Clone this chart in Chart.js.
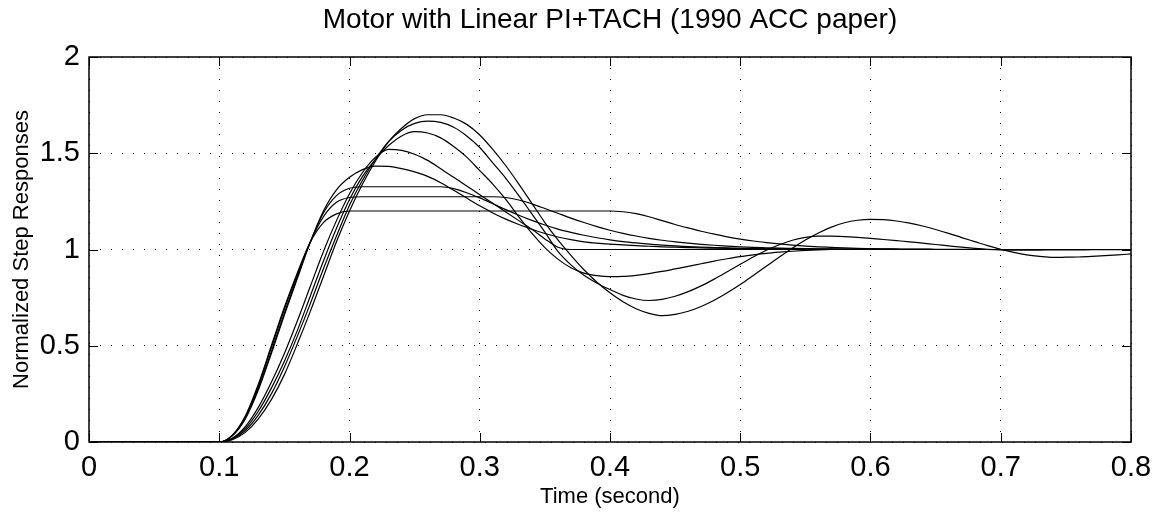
<!DOCTYPE html>
<html>
<head>
<meta charset="utf-8">
<script src="https://cdn.jsdelivr.net/npm/chart.js@4.4.1/dist/chart.umd.min.js"></script>
<style>
    html, body { margin: 0; padding: 0; background: #fff; }
    #wrap { width: 1156px; height: 521px; }
</style>
</head>
<body>
<div id="wrap"><canvas id="chart" width="1156" height="521"></canvas></div>
<script>
// sample times (s): 0, then 0.10 ... 0.80 every 0.01
const timeSec = [0,
    0.10, 0.11, 0.12, 0.13, 0.14, 0.15, 0.16, 0.17, 0.18, 0.19,
    0.20, 0.21, 0.22, 0.23, 0.24, 0.25, 0.26, 0.27, 0.28, 0.29,
    0.30, 0.31, 0.32, 0.33, 0.34, 0.35, 0.36, 0.37, 0.38, 0.39,
    0.40, 0.41, 0.42, 0.43, 0.44, 0.45, 0.46, 0.47, 0.48, 0.49,
    0.50, 0.51, 0.52, 0.53, 0.54, 0.55, 0.56, 0.57, 0.58, 0.59,
    0.60, 0.61, 0.62, 0.63, 0.64, 0.65, 0.66, 0.67, 0.68, 0.69,
    0.70, 0.71, 0.72, 0.73, 0.74, 0.75, 0.76, 0.77, 0.78, 0.79,
    0.80]

// normalized step responses
const stepA = [0,
    0, 0.035, 0.135, 0.30, 0.50, 0.70, 0.88, 1.04, 1.14, 1.185,
    1.20, 1.20, 1.20, 1.20, 1.20, 1.20, 1.20, 1.20, 1.20, 1.20,
    1.20, 1.20, 1.20, 1.20, 1.20, 1.20, 1.20, 1.20, 1.20, 1.20,
    1.20, 1.196, 1.186, 1.17, 1.15, 1.13, 1.112, 1.095, 1.08, 1.066,
    1.054, 1.044, 1.036, 1.029, 1.023, 1.018, 1.014, 1.011, 1.008, 1.006,
    1.005, 1.004, 1.003, 1.002, 1.002, 1.001, 1.001, 1.001, 1.0, 1.0,
    1.0, 1.0, 1.0, 1.0, 1.0, 1.0, 1.0, 1.0, 1.0, 1.0,
    1.0]
const stepB = [0,
    0, 0.034, 0.13, 0.29, 0.49, 0.69, 0.87, 1.04, 1.17, 1.245,
    1.27, 1.274, 1.274, 1.274, 1.274, 1.274, 1.274, 1.274, 1.274, 1.274,
    1.274, 1.274, 1.27, 1.257, 1.237, 1.213, 1.188, 1.163, 1.14, 1.119,
    1.10, 1.084, 1.07, 1.058, 1.048, 1.04, 1.033, 1.027, 1.022, 1.018,
    1.014, 1.011, 1.009, 1.007, 1.006, 1.005, 1.004, 1.003, 1.002, 1.002,
    1.001, 1.001, 1.001, 1.001, 1.001, 1.0, 1.0, 1.0, 1.0, 1.0,
    1.0, 1.0, 1.0, 1.0, 1.0, 1.0, 1.0, 1.0, 1.0, 1.0,
    1.0]
const stepC = [0,
    0, 0.033, 0.125, 0.28, 0.47, 0.67, 0.86, 1.04, 1.19, 1.28,
    1.318, 1.326, 1.326, 1.326, 1.326, 1.326, 1.326, 1.326, 1.316, 1.295,
    1.268, 1.238, 1.207, 1.178, 1.151, 1.127, 1.106, 1.089, 1.074, 1.061,
    1.05, 1.041, 1.034, 1.028, 1.023, 1.019, 1.015, 1.012, 1.01, 1.008,
    1.006, 1.005, 1.004, 1.003, 1.002, 1.002, 1.001, 1.001, 1.001, 1.0,
    1.0, 1.0, 1.0, 1.0, 1.0, 1.0, 1.0, 1.0, 1.0, 1.0,
    1.0, 1.0, 1.0, 1.0, 1.0, 1.0, 1.0, 1.0, 1.0, 1.0,
    1.0]
const stepD = [0,
    0, 0.032, 0.12, 0.27, 0.46, 0.66, 0.85, 1.04, 1.20, 1.31,
    1.375, 1.415, 1.433, 1.432, 1.42, 1.403, 1.38, 1.347, 1.308, 1.267,
    1.227, 1.19, 1.158, 1.13, 1.105, 1.083, 1.065, 1.051, 1.04, 1.033,
    1.028, 1.024, 1.02, 1.017, 1.014, 1.012, 1.01, 1.008, 1.007, 1.006,
    1.005, 1.004, 1.004, 1.003, 1.003, 1.002, 1.002, 1.002, 1.001, 1.001,
    1.001, 1.001, 1.0, 1.0, 1.0, 1.0, 1.0, 1.0, 1.0, 1.0,
    1.0, 1.0, 1.0, 1.0, 1.0, 1.0, 1.0, 1.0, 1.0, 1.0,
    1.0]
const stepE = [0,
    0, 0.02, 0.08, 0.18, 0.31, 0.46, 0.63, 0.81, 0.99, 1.15,
    1.29, 1.40, 1.48, 1.52, 1.515, 1.495, 1.463, 1.42, 1.375, 1.33,
    1.285, 1.24, 1.195, 1.15, 1.105, 1.055, 1.012, 1.0, 1.0, 1.0,
    1.0, 1.0, 1.0, 1.0, 1.0, 1.0, 1.0, 1.0, 1.0, 1.0,
    1.0, 1.0, 1.0, 1.0, 1.0, 1.0, 1.0, 1.0, 1.0, 1.0,
    1.0, 1.0, 1.0, 1.0, 1.0, 1.0, 1.0, 1.0, 1.0, 1.0,
    1.0, 1.0, 1.0, 1.0, 1.0, 1.0, 1.0, 1.0, 1.0, 1.0,
    1.0]
const stepF = [0,
    0, 0.018, 0.07, 0.16, 0.28, 0.42, 0.58, 0.76, 0.94, 1.11,
    1.26, 1.38, 1.47, 1.54, 1.59, 1.612, 1.605, 1.58, 1.535, 1.48,
    1.41, 1.34, 1.26, 1.17, 1.085, 1.01, 0.95, 0.905, 0.877, 0.864,
    0.859, 0.86, 0.866, 0.875, 0.886, 0.899, 0.912, 0.926, 0.94, 0.952,
    0.963, 0.972, 0.98, 0.986, 0.991, 0.995, 0.998, 1.0, 1.001, 1.001,
    1.001, 1.001, 1.0, 1.0, 1.0, 1.0, 1.0, 1.0, 1.0, 1.0,
    1.0, 1.0, 1.0, 1.0, 1.0, 1.0, 1.0, 1.0, 1.0, 1.0,
    1.0]
const stepG = [0,
    0, 0.015, 0.06, 0.14, 0.25, 0.39, 0.55, 0.72, 0.90, 1.07,
    1.23, 1.36, 1.47, 1.56, 1.62, 1.655, 1.667, 1.66, 1.635, 1.59,
    1.53, 1.45, 1.37, 1.28, 1.185, 1.09, 0.99, 0.92, 0.866, 0.825,
    0.792, 0.762, 0.743, 0.735, 0.741, 0.757, 0.781, 0.811, 0.846, 0.884,
    0.923, 0.961, 0.996, 1.025, 1.048, 1.063, 1.07, 1.069, 1.067, 1.063,
    1.058, 1.052, 1.046, 1.04, 1.033, 1.026, 1.019, 1.012, 1.006, 1.001,
    0.998, 0.997, 0.997, 0.997, 0.998, 0.998, 0.998, 0.999, 0.999, 0.999,
    1.0]
const stepH = [0,
    0, 0.012, 0.05, 0.12, 0.22, 0.35, 0.51, 0.68, 0.86, 1.04,
    1.20, 1.34, 1.46, 1.56, 1.63, 1.68, 1.70, 1.70, 1.683, 1.65,
    1.595, 1.52, 1.435, 1.34, 1.24, 1.14, 1.05, 0.97, 0.895, 0.83,
    0.775, 0.728, 0.692, 0.668, 0.656, 0.663, 0.679, 0.704, 0.736, 0.775,
    0.818, 0.865, 0.913, 0.961, 1.007, 1.049, 1.086, 1.116, 1.139, 1.152,
    1.157, 1.155, 1.148, 1.137, 1.122, 1.104, 1.084, 1.062, 1.041, 1.02,
    1.001, 0.985, 0.972, 0.964, 0.959, 0.96, 0.961, 0.964, 0.968, 0.972,
    0.977]

const responses = [stepA, stepB, stepC, stepD, stepE, stepF, stepG, stepH]
const xTicks = [0, 0.1, 0.2, 0.3, 0.4, 0.5, 0.6, 0.7, 0.8]
const yTicks = [0, 0.5, 1, 1.5, 2]

const FONT = '"Liberation Sans", Arial, Helvetica, sans-serif'
const TICK_LEN = 9

// matlab style box with inward ticks on all four sides
const boxTicks = {
    id: 'boxTicks',
    afterDatasetsDraw(chart) {
        const { ctx, chartArea: a, scales } = chart
        ctx.save()
        ctx.strokeStyle = '#000'
        ctx.lineWidth = 1
        ctx.beginPath()
        xTicks.forEach(v => {
            const px = Math.round(scales.x.getPixelForValue(v)) + 0.5
            ctx.moveTo(px, a.bottom); ctx.lineTo(px, a.bottom - TICK_LEN)
            ctx.moveTo(px, a.top); ctx.lineTo(px, a.top + TICK_LEN)
        })
        yTicks.forEach(v => {
            const py = Math.round(scales.y.getPixelForValue(v)) + 0.5
            ctx.moveTo(a.left, py); ctx.lineTo(a.left + TICK_LEN, py)
            ctx.moveTo(a.right, py); ctx.lineTo(a.right - TICK_LEN, py)
        })
        ctx.stroke()
        ctx.lineWidth = 1.5
        ctx.strokeRect(a.left, a.top, a.right - a.left, a.bottom - a.top)
        ctx.restore()
    }
}

const fmt = v => (v === 0 ? '0' : Number.isInteger(v) ? String(v) : v.toFixed(1))

new Chart(document.getElementById('chart'), {
    type: 'line',
    data: {
        datasets: responses.map((ys, i) => ({
            label: 'response ' + (i + 1),
            data: timeSec.map((t, k) => ({ x: t, y: ys[k] })),
            borderColor: '#000',
            borderWidth: 1.2,
            pointRadius: 0,
            fill: false,
            cubicInterpolationMode: 'monotone'
        }))
    },
    options: {
        responsive: false,
        animation: false,
        events: [],
        layout: { padding: { top: 0, right: 25, left: 0, bottom: 0 } },
        scales: {
            x: {
                type: 'linear',
                min: 0,
                max: 0.8,
                afterFit(scale) {
                    scale.height = 79
                    // labels may hang past the box edges, like the original
                    scale.paddingLeft = 0
                    scale.paddingRight = 0
                },
                afterBuildTicks(scale) { scale.ticks = xTicks.map(v => ({ value: v })) },
                ticks: {
                    color: '#000',
                    padding: 9,
                    maxRotation: 0,
                    font: { family: FONT, size: 29 },
                    callback: fmt
                },
                grid: { color: '#000', lineWidth: 1, drawTicks: false },
                border: { display: false, dash: [1, 10] },
                title: {
                    display: true,
                    text: 'Time (second)',
                    color: '#000',
                    font: { family: FONT, size: 22 },
                    padding: { top: 0, bottom: 10.8 }
                }
            },
            y: {
                min: 0,
                max: 2,
                afterFit(scale) {
                    scale.width = 89
                    scale.paddingTop = 0
                    scale.paddingBottom = 0
                },
                afterBuildTicks(scale) { scale.ticks = yTicks.map(v => ({ value: v })) },
                ticks: {
                    color: '#000',
                    padding: 9,
                    font: { family: FONT, size: 29 },
                    callback: fmt
                },
                grid: { color: '#000', lineWidth: 1, drawTicks: false },
                border: { display: false, dash: [1, 10] },
                title: {
                    display: true,
                    text: 'Normalized Step Responses',
                    color: '#000',
                    font: { family: FONT, size: 22 },
                    padding: { top: 9, bottom: 0 }
                }
            }
        },
        plugins: {
            legend: { display: false },
            tooltip: { enabled: false },
            title: {
                display: true,
                fullSize: false,
                text: 'Motor with Linear PI+TACH (1990 ACC paper)',
                color: '#000',
                font: { family: FONT, size: 28, weight: 'normal' },
                padding: { top: 3.2, bottom: 20.2 }
            }
        }
    },
    plugins: [boxTicks]
})
</script>
</body>
</html>
